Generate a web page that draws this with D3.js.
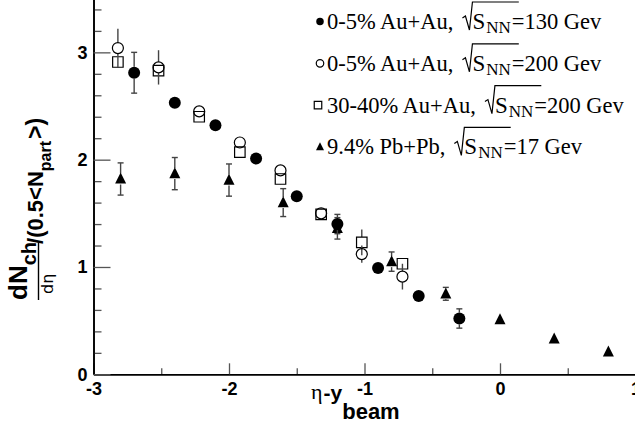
<!DOCTYPE html>
<html><head><meta charset="utf-8">
<script src="https://cdn.jsdelivr.net/npm/d3@7"></script>
<style>body{margin:0;background:#fff}svg{display:block}</style>
</head><body>
<svg id="c" width="635" height="433"></svg>
<script>
// ---- data ----
const au130X = [-2.7, -2.4, -2.1, -1.8, -1.5, -1.2, -0.9, -0.6, -0.3];
const au130Y = [2.81, 2.53, 2.32, 2.01, 1.66, 1.40, 0.99, 0.73, 0.52];
const au130E = [0.19, 0.04, 0.04, 0.04, 0.04, 0.09, 0.04, 0.04, 0.09];

const au200cX = [-2.82, -2.52, -2.22, -1.92, -1.62, -1.32, -1.02, -0.72];
const au200cY = [3.04, 2.86, 2.45, 2.16, 1.90, 1.50, 1.12, 0.91];
const au200cE = [0.18, 0.16, 0.05, 0.05, 0.05, 0.05, 0.08, 0.12];

const au200pX = [-2.82, -2.52, -2.22, -1.92, -1.62, -1.32, -1.02, -0.72];
const au200pY = [2.91, 2.83, 2.40, 2.07, 1.82, 1.49, 1.23, 1.03];
const au200pE = [0.05, 0.05, 0.05, 0.05, 0.05, 0.05, 0.12, 0.05];

const pbX = [-2.8, -2.4, -2.0, -1.6, -1.2, -0.8, -0.4, 0.0, 0.4, 0.8];
const pbY = [1.82, 1.87, 1.81, 1.60, 1.36, 1.05, 0.75, 0.51, 0.33, 0.21];
const pbE = [0.15, 0.15, 0.15, 0.13, 0.10, 0.09, 0.06, 0.03, 0.03, 0.02];

const xTicks = [-3, -2, -1, 0, 1];
const xMinorTicks = [-2.5, -1.5, -0.5, 0.5];
const yTicks = [0, 1, 2, 3];
const yMinorTicks = [0.2, 0.4, 0.6, 0.8, 1.2, 1.4, 1.6, 1.8, 2.2, 2.4, 2.6, 2.8, 3.2, 3.4];

const legendLabels = ["0-5% Au+Au,", "0-5% Au+Au,", "30-40% Au+Au,", "9.4% Pb+Pb,"];
const legendEnergies = ["=130 Gev", "=200 Gev", "=200 Gev", "=17 Gev"];
const legendMarkers = ["fcircle", "ocircle", "osquare", "ftriangle"];

// ---- setup ----
const svg = d3.select("#c");
const x = d3.scaleLinear().domain([-3, 1]).range([93.5, 635.5]);
const y = d3.scaleLinear().domain([0, 3.5]).range([374.3, -1.3]);
const SANS = "'Liberation Sans', Arial, Helvetica, sans-serif";
const SERIF = "'Liberation Serif', 'Times New Roman', serif";

function markerPath(type, s) {
  if (type === "fcircle" || type === "ocircle") {
    const r = s / 2;
    return `M${-r},0A${r},${r} 0 1,0 ${r},0A${r},${r} 0 1,0 ${-r},0Z`;
  }
  if (type === "osquare") {
    const h = s / 2;
    return `M${-h},${-h}H${h}V${h}H${-h}Z`;
  }
  return `M0,${-s * 0.58}L${s / 2},${s * 0.42}L${-s / 2},${s * 0.42}Z`;
}
function styleMarker(sel, type) {
  if (type === "fcircle" || type === "ftriangle") sel.attr("fill", "#000").attr("stroke", "none");
  else sel.attr("fill", "none").attr("stroke", "#000").attr("stroke-width", 1.2);
}

// ---- axes ----
const gxMinor = svg.append("g").attr("transform", `translate(0,${y(0)})`)
  .call(d3.axisBottom(x).tickValues(xMinorTicks).tickSize(-6).tickSizeOuter(0).tickFormat(""));
const gx = svg.append("g").attr("transform", `translate(0,${y(0)})`)
  .call(d3.axisBottom(x).tickValues(xTicks).tickSize(-11).tickSizeOuter(0).tickPadding(8).tickFormat(d => String(d)));
const gyMinor = svg.append("g").attr("transform", `translate(${x(-3)},0)`)
  .call(d3.axisLeft(y).tickValues(yMinorTicks).tickSize(-8).tickSizeOuter(0).tickFormat(""));
const gy = svg.append("g").attr("transform", `translate(${x(-3)},0)`)
  .call(d3.axisLeft(y).tickValues(yTicks).tickSize(-17).tickSizeOuter(0).tickPadding(6).tickFormat(d => String(d)));

[gxMinor, gx, gyMinor, gy].forEach(g => {
  g.select(".domain").attr("stroke", "#000").attr("stroke-width", 1.6);
  g.selectAll(".tick line").attr("stroke", "#555").attr("stroke-width", 1.3);
  g.selectAll(".tick text").attr("fill", "#000").attr("font-family", SANS)
    .attr("font-weight", "bold").attr("font-size", 18);
});

// ---- data series ----
const series = [
  { X: pbX, Y: pbY, E: pbE, type: "ftriangle", caps: true, size: 11 },
  { X: au200pX, Y: au200pY, E: au200pE, type: "osquare", caps: false, size: 10.5 },
  { X: au200cX, Y: au200cY, E: au200cE, type: "ocircle", caps: false, size: 11 },
  { X: au130X, Y: au130Y, E: au130E, type: "fcircle", caps: true, size: 12 },
];

const plot = svg.append("g");
series.forEach(s => {
  const pts = s.X.map((v, i) => ({ x: v, y: s.Y[i], e: s.E[i] }));
  const half = s.size / 2;
  const eg = plot.append("g").attr("stroke", "#444").attr("stroke-width", 1.4);
  pts.forEach(p => {
    const cx = x(p.x), cy = y(p.y), top = y(p.y + p.e), bot = y(p.y - p.e);
    if (top < cy - half) {
      eg.append("line").attr("x1", cx).attr("x2", cx).attr("y1", top).attr("y2", cy - half);
      if (s.caps) eg.append("line").attr("x1", cx - 3).attr("x2", cx + 3).attr("y1", top).attr("y2", top);
    }
    if (bot > cy + half) {
      eg.append("line").attr("x1", cx).attr("x2", cx).attr("y1", cy + half).attr("y2", bot);
      if (s.caps) eg.append("line").attr("x1", cx - 3).attr("x2", cx + 3).attr("y1", bot).attr("y2", bot);
    }
  });
  plot.append("g").selectAll("path").data(pts).join("path")
    .attr("d", markerPath(s.type, s.size))
    .attr("transform", d => `translate(${x(d.x)},${y(d.y)})`)
    .call(sel => styleMarker(sel, s.type));
});

// ---- y axis title (rotated) ----
const yl = svg.append("g").attr("transform", "rotate(-90)");
function t(g, str, u, v, size, weight, family, anchor) {
  return g.append("text").attr("x", u).attr("y", v).attr("font-size", size)
    .attr("font-weight", weight || "bold").attr("font-family", family || SANS)
    .attr("text-anchor", anchor || "start").attr("fill", "#000").text(str);
}
const tdN = t(yl, "dN", -300, 27, 26);
const lenDN = tdN.node().getComputedTextLength();
const tch = t(yl, "ch", -300 + lenDN, 35.5, 20);
const lenCh = tch.node().getComputedTextLength();
yl.append("line").attr("x1", -300).attr("x2", -300 + lenDN + lenCh).attr("y1", 38.5).attr("y2", 38.5)
  .attr("stroke", "#000").attr("stroke-width", 1.4);
t(yl, "d\u03b7", -294, 53, 16, "normal", "'DejaVu Sans', sans-serif", "start");
const tslash = t(yl, "/(0.5<N", -300 + lenDN + lenCh - 2, 43, 22);
const lenSl = tslash.node().getComputedTextLength();
const uPart = -300 + lenDN + lenCh - 2 + lenSl;
const tpart = t(yl, "part", uPart, 51, 16);
const lenPart = tpart.node().getComputedTextLength();
t(yl, ">)", uPart + lenPart + 2, 43, 23);

// ---- x axis title ----
const xl = svg.append("g");
const teta = xl.append("text").attr("x", 311).attr("y", 399).attr("font-family", SERIF)
  .attr("font-size", 22).attr("fill", "#000").text("\u03b7");
const lenEta = teta.node().getComputedTextLength();
const ty = xl.append("text").attr("x", 311 + lenEta + 1).attr("y", 400).attr("font-family", SANS)
  .attr("font-weight", "bold").attr("font-size", 21).attr("fill", "#000").text("-y");
const lenY = ty.node().getComputedTextLength();
xl.append("text").attr("x", 311 + lenEta + 1 + lenY).attr("y", 419).attr("font-family", SANS)
  .attr("font-weight", "bold").attr("font-size", 22).attr("fill", "#000").text("beam");

// ---- legend ----
const lg = svg.append("g");
legendLabels.forEach((lab, i) => {
  const b = 29 + i * 41.8;
  const type = legendMarkers[i];
  const textX = 327;
  lg.append("path").attr("d", markerPath(type, type === "ftriangle" ? 8 : 7.5))
    .attr("transform", `translate(${type === "osquare" ? 318 : 320},${b - 7.5})`).call(sel => styleMarker(sel, type));
  const tl = lg.append("text").attr("x", textX).attr("y", b).attr("font-family", SERIF)
    .attr("font-size", 22.5).attr("fill", "#000").text(lab);
  const rx = textX + tl.node().getComputedTextLength() + 9;
  const tS = lg.append("text").attr("x", rx + 10).attr("y", b).attr("font-family", SERIF)
    .attr("font-size", 23).attr("fill", "#000").text("S");
  const sEnd = rx + 10 + tS.node().getComputedTextLength();
  const tNN = lg.append("text").attr("x", sEnd + 1).attr("y", b + 4).attr("font-family", SERIF)
    .attr("font-size", 17).attr("fill", "#000").text("NN");
  const nnEnd = sEnd + 1 + tNN.node().getComputedTextLength();
  lg.append("path")
    .attr("d", `M${rx},${b - 11}L${rx + 3},${b - 13}L${rx + 7},${b + 1}L${rx + 10},${b - 27}H${nnEnd + 8}`)
    .attr("fill", "none").attr("stroke", "#000").attr("stroke-width", 1.2);
  lg.append("text").attr("x", nnEnd + 1).attr("y", b).attr("font-family", SERIF)
    .attr("font-size", 22.5).attr("fill", "#000").text(legendEnergies[i]);
});
</script>
</body></html>
